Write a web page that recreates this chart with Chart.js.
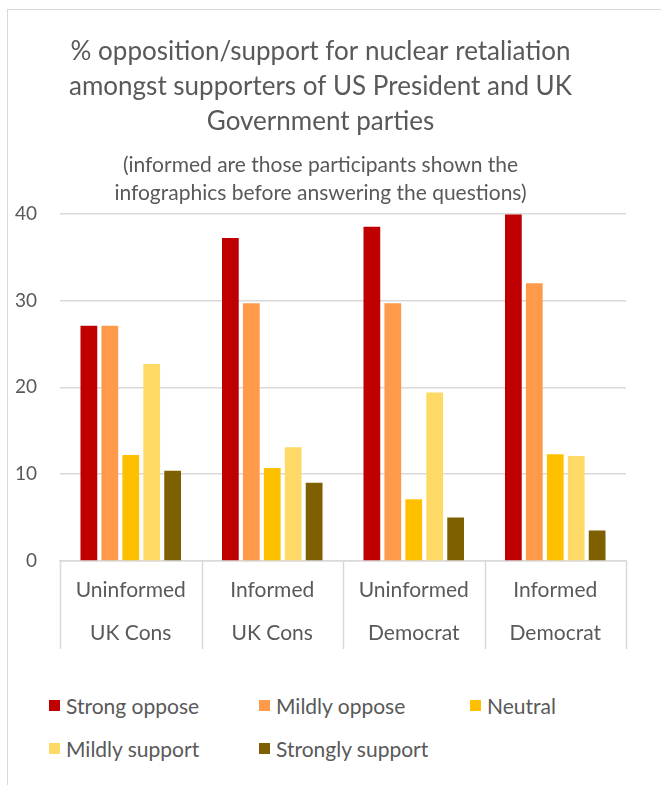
<!DOCTYPE html>
<html>
<head>
<meta charset="utf-8">
<script src="https://cdn.jsdelivr.net/npm/chart.js@4.4.1/dist/chart.umd.min.js"></script>
<style>
  html, body { margin: 0; padding: 0; background: #fff; width: 661px; height: 785px; overflow: hidden; }
  #frame { position: absolute; left: 7px; top: 9px; width: 700px; height: 800px;
           border-left: 1px solid #d9d9d9; border-top: 1px solid #d9d9d9; }
  #plot { position: absolute; left: 7px; top: 9px; width: 628px; height: 656px; }
  #legend { position: absolute; left: 49px; top: 692px; width: 612px;
            display: grid; grid-template-columns: 210px 211px 150px; row-gap: 17px;
            font-family: Lato, "Open Sans", sans-serif; font-size: 21px; color: #595959; }
  .item { display: flex; align-items: center; height: 26px; white-space: nowrap; }
  .swatch { width: 11px; height: 11px; margin-right: 6px; flex: none; }
</style>
</head>
<body>
<div id="frame"></div>
<div id="plot"><canvas id="chart"></canvas></div>
<div id="legend"></div>
<script>
// Respondent groups (two-line category labels)
const categories = [
  ["Uninformed", "UK Cons"],
  ["Informed", "UK Cons"],
  ["Uninformed", "Democrat"],
  ["Informed", "Democrat"]
];

// Percentage of respondents in each group giving each answer
const strongOppose    = [27.1, 37.2, 38.5, 39.9];
const mildlyOppose    = [27.1, 29.7, 29.7, 32.0];
const neutral         = [12.2, 10.7, 7.1, 12.3];
const mildlySupport   = [22.7, 13.1, 19.4, 12.1];
const stronglySupport = [10.4, 9.0, 5.0, 3.5];

const seriesNames  = ["Strong oppose", "Mildly oppose", "Neutral", "Mildly support", "Strongly support"];
const seriesValues = [strongOppose, mildlyOppose, neutral, mildlySupport, stronglySupport];
const seriesColors = ["#C00000", "#FF9A4A", "#FFC000", "#FFD966", "#7F6000"];

const yTicks = [0, 10, 20, 30, 40];

const titleLines = [
  "% opposition/support for nuclear retaliation",
  "amongst supporters of US President and UK",
  "Government parties"
];
const subtitleLines = [
  "(informed are those participants shown the",
  "infographics before answering the questions)"
];

const textColor = "#595959";
const gridColor = "#d9d9d9";
const fontFamily = "Lato, 'Open Sans', sans-serif";

const datasets = seriesNames.map((name, i) => ({
  label: name,
  data: seriesValues[i],
  backgroundColor: seriesColors[i],
  borderWidth: 0,
  barPercentage: 0.8,
  categoryPercentage: 0.74
}));

// Vertical dividers between the category boxes, running down past the labels
const categoryDividers = {
  id: "categoryDividers",
  afterDraw(chart) {
    const s = chart.scales.x;
    const n = s.ticks.length;
    const step = (s.right - s.left) / n;
    const ctx = chart.ctx;
    ctx.save();
    ctx.strokeStyle = gridColor;
    ctx.lineWidth = 1.5;
    ctx.beginPath();
    for (let i = 0; i <= n; i++) {
      const x = Math.round(s.left + i * step) + 0.5;
      ctx.moveTo(x, s.top);
      ctx.lineTo(x, s.top + 88);
    }
    ctx.stroke();
    ctx.restore();
  }
};

new Chart(document.getElementById("chart"), {
  type: "bar",
  data: { labels: categories, datasets },
  plugins: [categoryDividers],
  options: {
    responsive: true,
    maintainAspectRatio: false,
    animation: false,
    layout: { padding: { left: 8, right: 9, top: 0, bottom: 2 } },
    plugins: {
      legend: { display: false },
      tooltip: { enabled: false },
      title: {
        display: true,
        text: titleLines,
        color: textColor,
        font: { family: fontFamily, size: 26, weight: "normal", lineHeight: 1.35 },
        padding: { top: 25, bottom: 12 }
      },
      subtitle: {
        display: true,
        text: subtitleLines,
        color: textColor,
        font: { family: fontFamily, size: 21, weight: "normal", lineHeight: 1.32 },
        padding: { top: 0, bottom: 7 }
      }
    },
    scales: {
      x: {
        offset: true,
        grid: { display: false, drawOnChartArea: false, drawTicks: false },
        border: { display: true, color: gridColor, width: 1.5 },
        ticks: {
          color: textColor,
          padding: 8,
          maxRotation: 0,
          autoSkip: false,
          font: { family: fontFamily, size: 21, lineHeight: 2.05 }
        },
        afterFit: (scale) => { scale.paddingLeft = 0; scale.paddingRight = 0; }
      },
      y: {
        min: 0,
        max: 40,
        afterBuildTicks: (scale) => { scale.ticks = yTicks.map(v => ({ value: v })); },
        afterFit: (scale) => { scale.width = 45; },
        grid: { color: gridColor, lineWidth: 1.5, drawTicks: false },
        border: { display: false },
        ticks: {
          color: textColor,
          padding: 23,
          font: { family: fontFamily, size: 19 }
        }
      }
    }
  }
});

// Legend laid out in columns beneath the chart
const legend = document.getElementById("legend");
seriesNames.forEach((name, i) => {
  const item = document.createElement("div");
  item.className = "item";
  const sw = document.createElement("span");
  sw.className = "swatch";
  sw.style.background = seriesColors[i];
  const label = document.createElement("span");
  label.textContent = name;
  item.appendChild(sw);
  item.appendChild(label);
  legend.appendChild(item);
});
</script>
</body>
</html>
